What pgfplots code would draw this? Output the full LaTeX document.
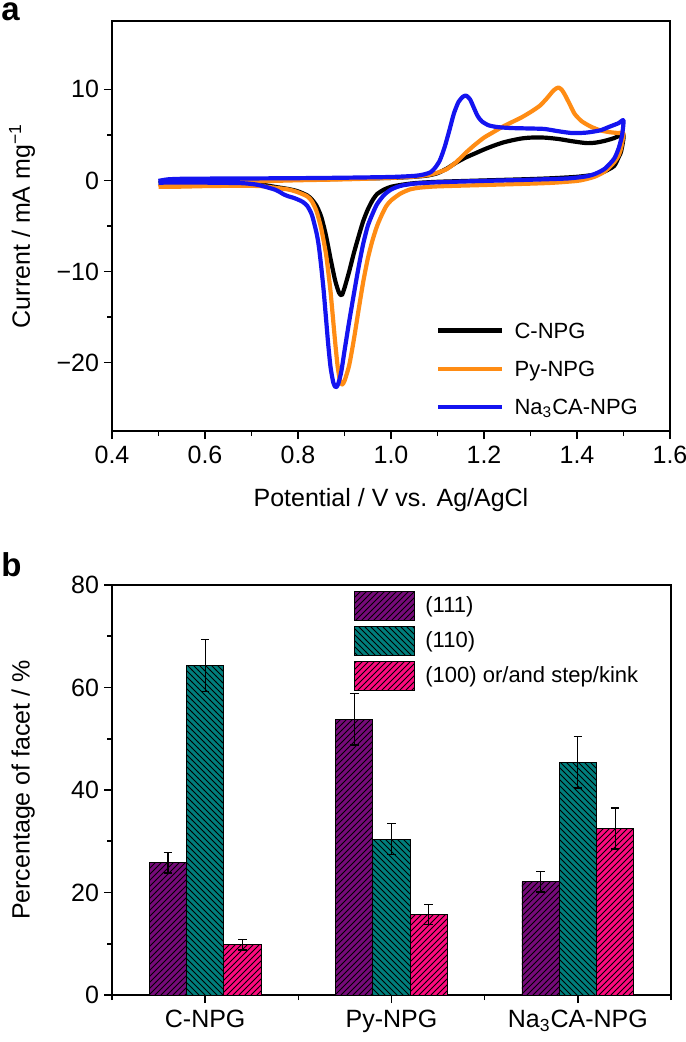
\documentclass[border=0pt]{standalone}
\usepackage{pgfplots}
\pgfplotsset{compat=1.18}
\usepackage{fontspec}
\setmainfont{Liberation Sans}
\usetikzlibrary{patterns}
\definecolor{corange}{RGB}{255,140,20}
\definecolor{cblue}{RGB}{20,20,240}
\definecolor{cpurple}{RGB}{118,10,122}
\definecolor{cteal}{RGB}{0,126,124}
\definecolor{cpink}{RGB}{252,10,126}
\newcommand{\axfont}{\fontsize{12.5}{15}\selectfont}
\newcommand{\legfont}{\fontsize{11}{13}\selectfont}
\begin{document}
\begin{tikzpicture}
\useasboundingbox (0pt,0pt) rectangle (342.5pt,-521pt);
\pgfplotsset{
  myaxis/.style={
    scale only axis, width=279pt, height=205pt,
    axis line style={line width=0.8pt},
    tick align=outside, xtick pos=bottom, ytick pos=left,
    major tick length=4pt, minor tick length=2.5pt,
    every tick/.style={black, line width=0.8pt},
    tick label style={font=\axfont},
    yticklabel style={xshift=1pt},
    label style={font=\axfont},
    /pgf/number format/assume math mode=true,
  }
}
\node[anchor=base west, font=\bfseries\fontsize{16.5}{18}\selectfont, inner sep=0pt] at (0.5pt,-10.5pt) {a};
\node[anchor=base west, font=\bfseries\fontsize{16.5}{18}\selectfont, inner sep=0pt] at (0.5pt,-288pt) {b};
\begin{axis}[myaxis, at={(56pt,-215.5pt)}, anchor=south west,
  xmin=0.4, xmax=1.6, ymin=-27.5, ymax=17.5,
  xtick={0.4,0.6,0.8,1.0,1.2,1.4,1.6}, xticklabels={0.4,0.6,0.8,1.0,1.2,1.4,1.6},
  minor x tick num=1,
  ytick={-20,-10,0,10}, yticklabels={−20,−10,0,10}, minor y tick num=1,
  xlabel={Potential / V vs. Ag/AgCl},
  ylabel={Current / mA mg\textsuperscript{−1}},
  xlabel style={at={(axis description cs:0.5,-0.168)}, anchor=center},
  ylabel style={at={(axis description cs:-0.1613,0.5)}, anchor=center},
  legend style={draw=none, fill=none, at={(axis description cs:0.5806,0.2927)}, anchor=north west,
    font=\legfont, inner sep=0pt, row sep=0pt, column sep=5pt, nodes={inner sep=0pt, text depth=0pt}},
  legend cell align=left,
  legend image code/.code={\path (0pt,-8.5pt) (32pt,8.5pt); \draw[#1] (0pt,0pt) -- (32pt,0pt);},
]
\addplot[black, line width=2.1pt, line join=round, smooth, tension=0.4] table {
0.50 -0.25
0.55 -0.05
0.60 0.02
0.70 0.08
0.80 0.12
0.90 0.18
1.00 0.28
1.05 0.40
1.08 0.55
1.10 0.80
1.12 1.30
1.14 1.95
1.16 2.50
1.18 2.95
1.20 3.40
1.22 3.80
1.24 4.15
1.26 4.40
1.28 4.60
1.30 4.70
1.33 4.70
1.36 4.55
1.39 4.30
1.42 4.10
1.44 4.15
1.46 4.35
1.48 4.65
1.50 5.00
1.495 3.2
1.49 2.6
1.48 1.6
1.46 1.0
1.44 0.65
1.40 0.40
1.35 0.25
1.30 0.15
1.20 0.00
1.10 -0.15
1.05 -0.30
1.02 -0.50
1.00 -0.70
0.985 -1.0
0.97 -1.5
0.96 -2.2
0.95 -3.2
0.94 -4.5
0.93 -6.2
0.92 -8.0
0.91 -10.0
0.90 -11.8
0.894 -12.6
0.888 -12.3
0.88 -11.0
0.87 -8.6
0.86 -6.0
0.85 -4.0
0.84 -2.8
0.83 -2.1
0.82 -1.65
0.80 -1.2
0.78 -0.95
0.75 -0.7
0.72 -0.45
0.68 -0.32
0.62 -0.27
0.55 -0.25
0.50 -0.25
};
\addlegendentry{C-NPG}
\addplot[corange, line width=2.1pt, line join=round, smooth, tension=0.4] table {
0.50 -0.70
0.52 -0.45
0.55 -0.35
0.60 -0.28
0.70 -0.12
0.80 0.02
0.90 0.12
1.00 0.28
1.05 0.42
1.08 0.60
1.10 0.85
1.12 1.25
1.14 2.0
1.16 3.0
1.18 3.9
1.20 4.7
1.22 5.3
1.24 5.9
1.26 6.4
1.28 6.9
1.30 7.5
1.32 8.2
1.335 9.0
1.35 9.9
1.36 10.2
1.368 9.9
1.375 9.3
1.385 8.3
1.395 7.3
1.41 6.5
1.43 5.9
1.45 5.5
1.47 5.3
1.49 5.2
1.50 5.2
1.495 3.6
1.49 2.8
1.48 2.0
1.46 1.0
1.44 0.45
1.42 0.15
1.40 -0.05
1.35 -0.25
1.30 -0.35
1.20 -0.50
1.10 -0.65
1.06 -0.80
1.04 -1.00
1.02 -1.45
1.00 -2.2
0.99 -2.8
0.98 -3.8
0.97 -5.0
0.96 -6.6
0.95 -8.6
0.94 -11.2
0.93 -14.3
0.92 -17.5
0.91 -20.3
0.90 -22.0
0.895 -22.4
0.89 -21.9
0.885 -20.3
0.88 -17.8
0.875 -15.0
0.87 -12.2
0.865 -10.0
0.86 -8.0
0.85 -5.3
0.84 -3.4
0.83 -2.3
0.82 -1.75
0.80 -1.3
0.78 -1.0
0.75 -0.8
0.72 -0.62
0.68 -0.58
0.60 -0.62
0.55 -0.68
0.50 -0.70
};
\addlegendentry{Py-NPG}
\addplot[cblue, line width=2.1pt, line join=round, smooth, tension=0.4] table {
0.50 -0.05
0.52 0.12
0.55 0.18
0.60 0.20
0.70 0.22
0.80 0.25
0.90 0.30
1.00 0.38
1.05 0.50
1.07 0.65
1.085 0.90
1.095 1.4
1.105 2.2
1.115 3.6
1.125 5.4
1.135 7.3
1.145 8.6
1.155 9.2
1.162 9.3
1.17 8.9
1.178 8.0
1.186 7.1
1.195 6.5
1.21 6.05
1.23 5.85
1.26 5.75
1.30 5.7
1.33 5.65
1.36 5.4
1.39 5.2
1.42 5.25
1.45 5.5
1.47 5.9
1.49 6.3
1.50 6.6
1.497 5.0
1.49 3.6
1.48 2.4
1.46 1.3
1.44 0.75
1.42 0.45
1.38 0.22
1.30 0.08
1.20 -0.05
1.10 -0.2
1.05 -0.35
1.02 -0.6
1.00 -1.0
0.985 -1.6
0.97 -2.6
0.96 -3.7
0.95 -5.0
0.94 -7.0
0.93 -9.6
0.92 -12.5
0.91 -15.5
0.90 -18.7
0.893 -21.0
0.886 -22.4
0.881 -22.7
0.876 -22.2
0.87 -20.5
0.865 -18.0
0.86 -15.0
0.855 -12.0
0.85 -9.5
0.845 -7.3
0.84 -5.8
0.83 -3.8
0.82 -2.8
0.81 -2.35
0.80 -2.1
0.79 -1.9
0.78 -1.75
0.77 -1.55
0.76 -1.25
0.75 -1.0
0.73 -0.7
0.71 -0.45
0.68 -0.3
0.62 -0.25
0.55 -0.22
0.50 -0.25
};
\addlegendentry{Na\textsubscript{3}CA-NPG}
\end{axis}
\pgfplotsset{
  mybar/.style={draw=black, line width=0.4pt, bar width=0.2,
    legend image code/.code={\draw[##1, draw=black, line width=0.5pt] (0pt,-7.25pt) rectangle (30pt,7.25pt);}},
  myerr/.style={error bars/.cd, y dir=both, y explicit, error bar style={black, line width=0.6pt},
    error mark options={black, rotate=90, line width=0.6pt, mark size=2.15pt}},
}
\begin{axis}[myaxis, at={(56pt,-497.5pt)}, anchor=south west, width=279.5pt,
  xmin=0.5, xmax=3.5, ymin=0, ymax=80,
  xtick={1,2,3}, xticklabels={C-NPG,Py-NPG,Na\textsubscript{3}CA-NPG},
  minor xtick={0.5,1.5,2.5,3.5},
  ytick={0,20,40,60,80}, minor y tick num=1,
  ylabel={Percentage of facet / \%},
  ylabel style={at={(axis description cs:-0.159,0.5)}, anchor=center},
  ybar, bar width=0.2,
  legend style={draw=none, fill=none, at={(axis description cs:0.4329,0.9854)}, anchor=north west,
    font=\legfont, inner sep=0pt, row sep=2.5pt, column sep=5pt, nodes={inner sep=0pt}},
  legend cell align=left,
]
\addplot[mybar, bar shift=-0.2, fill=cpurple, postaction={pattern=north east lines}, myerr]
  coordinates {(1,25.8) +- (0,2.0) (2,53.8) +- (0,5.0) (3,22.1) +- (0,2.0)};
\addlegendentry{(111)}
\addplot[mybar, bar shift=0, fill=cteal, postaction={pattern=north west lines}, myerr]
  coordinates {(1,64.3) +- (0,5.0) (2,30.4) +- (0,3.0) (3,45.4) +- (0,5.0)};
\addlegendentry{(110)}
\addplot[mybar, bar shift=0.2, fill=cpink, postaction={pattern=north east lines}, myerr]
  coordinates {(1,9.8) +- (0,1.0) (2,15.7) +- (0,2.0) (3,32.5) +- (0,4.0)};
\addlegendentry{(100) or/and step/kink}
\end{axis}
\end{tikzpicture}
\end{document}
